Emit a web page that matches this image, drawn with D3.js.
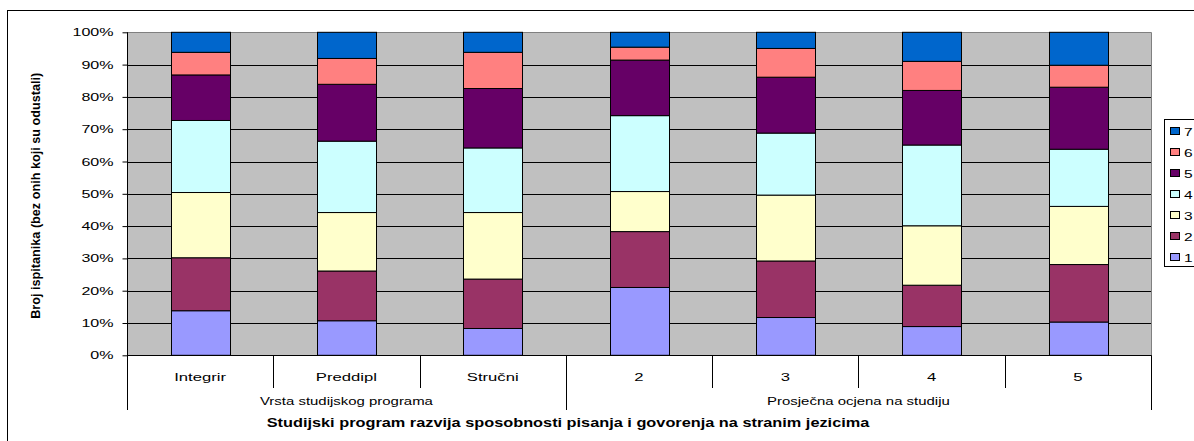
<!DOCTYPE html>
<html><head><meta charset="utf-8">
<script src="https://cdn.jsdelivr.net/npm/d3@7"></script>
<style>
html,body{margin:0;padding:0;background:#fff;}
svg{display:block;font-family:"Liberation Sans",Arial,sans-serif;}
</style></head>
<body><svg id="chart" width="1194" height="441"></svg>
<script>
const categories = ["Integrir","Preddipl","Stručni","2","3","4","5"];
const groupNames = ["Vrsta studijskog programa","Prosječna ocjena na studiju"];
const groupSizes = [3,4];
const seriesNames = ["1","2","3","4","5","6","7"];
const s1 = [13.8,10.7, 8.3,21.0,11.7, 8.9,10.3];
const s2 = [16.4,15.4,15.3,17.3,17.5,12.8,17.8];
const s3 = [20.2,18.1,20.6,12.4,20.4,18.4,18.0];
const s4 = [22.3,22.1,20.0,23.5,19.2,25.0,17.7];
const s5 = [14.1,17.6,18.4,17.2,17.3,16.9,19.2];
const s6 = [ 7.0, 8.0,11.2, 4.0, 8.9, 9.0, 6.8];
const s7 = [ 6.2, 8.1, 6.2, 4.6, 5.0, 9.0,10.2];
const yTicks = [0,0.1,0.2,0.3,0.4,0.5,0.6,0.7,0.8,0.9,1];
const colors = ["#9999FF","#993366","#FFFFCC","#CCFFFF","#660066","#FF8080","#0066CC"];
const yTitle = "Broj ispitanika (bez onih koji su odustali)";
const xTitle = "Studijski program razvija sposobnosti pisanja i govorenja na stranim jezicima";

const allSeries = [s1,s2,s3,s4,s5,s6,s7];
const table = categories.map((c,i)=>{const o={cat:c}; seriesNames.forEach((s,j)=>o[s]=allSeries[j][i]); return o;});

const svg = d3.select("#chart");
const L=127, R=1151, T=32.3, B=355.3;

function stretched(g, x, y, txt, anchor, size, weight, sx){
  return g.append("text").attr("transform",`translate(${x},${y}) scale(${sx},1)`)
    .attr("text-anchor",anchor).attr("font-size",size+"px")
    .attr("font-weight",weight||"normal").attr("fill","#000").text(txt);
}

// outer frame
svg.append("rect").attr("x",7.5).attr("y",10.5).attr("width",1200).attr("height",450)
  .attr("fill","#fff").attr("stroke","#000").attr("stroke-width",1);

const x = d3.scaleBand().domain(categories).range([L,R]).paddingInner(0.6).paddingOuter(0.3);
const y = d3.scaleLinear().domain([0,1]).range([B,T]);
const step = x.step();

// plot area
svg.append("rect").attr("x",L).attr("y",T).attr("width",R-L).attr("height",B-T).attr("fill","#C0C0C0");
svg.append("g").selectAll("line").data(yTicks.slice(1)).join("line")
  .attr("x1",L).attr("x2",R).attr("y1",d=>Math.round(y(d))+0.5).attr("y2",d=>Math.round(y(d))+0.5)
  .attr("stroke","#000").attr("stroke-width",1);
svg.append("path").attr("d",`M${L},${Math.round(T)+0.5}H${R+0.5}V${Math.round(B)}`).attr("fill","none").attr("stroke","#808080");

// stacked bars
const stacked = d3.stack().keys(seriesNames).offset(d3.stackOffsetExpand)(table);
svg.append("g").selectAll("g").data(stacked).join("g")
  .attr("fill",(d,i)=>colors[i])
  .selectAll("rect").data(d=>d).join("rect")
  .attr("x",d=>Math.round(x(d.data.cat))+0.5)
  .attr("width",Math.round(x.bandwidth()))
  .attr("y",d=>y(d[1]))
  .attr("height",d=>y(d[0])-y(d[1]))
  .attr("stroke","#000").attr("stroke-width",1);

// y axis
const yAxis = d3.axisLeft(y).tickValues(yTicks).tickFormat(d3.format(".0%")).tickSize(5);
const gy = svg.append("g").attr("transform",`translate(${L+0.5},0)`).call(yAxis);
gy.select(".domain").attr("stroke","#000").attr("d",`M0,${y(1)}V${y(0)}`);
gy.selectAll(".tick line").attr("stroke","#000");
gy.selectAll(".tick text").remove();
const fmt = d3.format(".0%");
yTicks.forEach(t=>stretched(svg, 113.5, y(t)+4, fmt(t), "end", 11, "normal", 1.46));

// x axis line
svg.append("line").attr("x1",L).attr("x2",R).attr("y1",Math.round(B)+0.5).attr("y2",Math.round(B)+0.5).attr("stroke","#000");

// category separators and labels
const bounds = d3.range(categories.length+1).map(i=>L+i*step);
svg.append("g").selectAll("line").data(bounds).join("line")
  .attr("x1",d=>Math.round(d)+0.5).attr("x2",d=>Math.round(d)+0.5)
  .attr("y1",B).attr("y2",388).attr("stroke","#000");
categories.forEach(c=>stretched(svg, x(c)+x.bandwidth()/2, 380.5, c, "middle", 11.5, "normal", 1.45));

// group separators and labels
const gb=[L]; let acc=0;
groupSizes.forEach(n=>{acc+=n; gb.push(L+acc*step);});
svg.append("g").selectAll("line").data(gb).join("line")
  .attr("x1",d=>Math.round(d)+0.5).attr("x2",d=>Math.round(d)+0.5)
  .attr("y1",B).attr("y2",410).attr("stroke","#000");
groupNames.forEach((g,i)=>stretched(svg, (gb[i]+gb[i+1])/2, 404.5, g, "middle", 11.5, "normal", 1.3));

// x title
stretched(svg, 568, 426.5, xTitle, "middle", 12, "bold", 1.36);
// y title
svg.append("text").attr("transform",`translate(40,${(T+B)/2+2}) rotate(-90) scale(1.055,1.1)`)
  .attr("text-anchor","middle").attr("font-size","12px").attr("font-weight","bold").text(yTitle);

// legend
const lg = svg.append("g");
lg.append("rect").attr("x",1164.5).attr("y",119.5).attr("width",60).attr("height",147).attr("fill","#fff").attr("stroke","#000");
const leg = seriesNames.slice().reverse();
const ly = d3.scalePoint().domain(leg).range([131,257]);
lg.selectAll("rect.sw").data(leg).join("rect").attr("class","sw")
  .attr("x",1170.5).attr("y",d=>ly(d)-3.5).attr("width",9).attr("height",7)
  .attr("fill",d=>colors[seriesNames.indexOf(d)]).attr("stroke","#000");
leg.forEach(d=>stretched(lg, 1184, ly(d)+4.5, d, "start", 11.5, "normal", 1.35));
</script></body></html>
